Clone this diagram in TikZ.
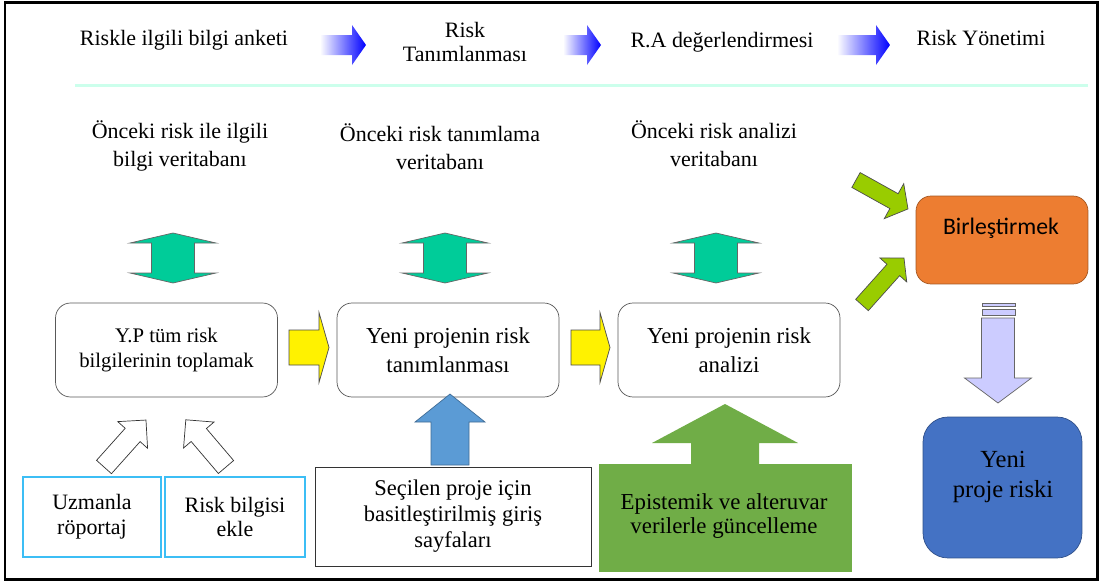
\documentclass[tikz,border=0pt]{standalone}
\usepackage{fontspec}
\setmainfont{Liberation Serif}
\newfontfamily\calibri{Carlito}
\usepackage{xcolor}

\definecolor{dbgreen}{RGB}{0,204,153}
\definecolor{inputblue}{RGB}{91,155,213}
\definecolor{updgreen}{RGB}{112,173,71}
\definecolor{limegreen}{RGB}{153,204,0}
\definecolor{mergeorange}{RGB}{237,125,49}
\definecolor{outlav}{RGB}{204,204,255}
\definecolor{riskblue}{RGB}{68,114,196}
\definecolor{boxcyan}{RGB}{60,190,245}
\definecolor{mint}{RGB}{204,255,236}

% block arrow: style, tail, angle, length, shaft half, head half, head length
\newcommand{\fatarrow}[7]{%
  \path[#1, shift={(#2)}, rotate=#3] (0,-#5) -- ({#4-#7},-#5) -- ({#4-#7},-#6) -- (#4,0)
    -- ({#4-#7},#6) -- ({#4-#7},#5) -- (0,#5) -- cycle;}

\begin{document}
\begin{tikzpicture}[x=0.02cm, y=-0.02cm, font=\fontsize{12.5}{16}\selectfont,
  stagebox/.style={draw=black!65, rounded corners=0.3cm, minimum width=4.44cm,
    minimum height=1.88cm, align=center, font=\fontsize{13}{16.4}\selectfont},
  srcbox/.style={draw=boxcyan, line width=0.035cm, minimum width=2.76cm, minimum height=1.6cm,
    align=center, font=\fontsize{12.5}{14.2}\selectfont}]
\useasboundingbox (0,0) rectangle (1103,585);
\fill[white] (0,0) rectangle (1103,585);
\draw[line width=0.06cm] (5,2) rectangle (1097,579);

% process header
\node (survey) at (184,40) {Riskle ilgili bilgi anketi};
\node[align=center, font=\fontsize{12.5}{13.6}\selectfont] (ident) at (465,42) {Risk\\Tanımlanması};
\node (assess) at (722,42) {R.A değerlendirmesi};
\node (manage) at (981,38) {Risk Yönetimi};
\foreach \x/\l in {320/46, 563/38, 837/53}
  {\fatarrow{left color=white, right color=blue}{\x,45}{0}{\l}{10}{20}{14}}
\draw[mint, line width=0.06cm] (75,85) -- (1088,85);

% databases
\node[align=center] (db1) at (180,146) {Önceki risk ile ilgili\\bilgi veritabanı};
\node[align=center] (db2) at (440,147) {Önceki risk tanımlama\\veritabanı};
\node[align=center] (db3) at (714,144) {Önceki risk analizi\\veritabanı};
\foreach \cx in {173,445,716}
  \filldraw[fill=dbgreen, draw=black!60] (\cx,233) -- (\cx+43,243) -- (\cx+21.5,243) -- (\cx+21.5,273)
    -- (\cx+43,273) -- (\cx,283) -- (\cx-43,273) -- (\cx-21.5,273) -- (\cx-21.5,243) -- (\cx-43,243) -- cycle;

% main steps
\node[stagebox, font=\fontsize{11.8}{14.7}\selectfont] (collect) at (166.5,350) {Y.P tüm risk\\bilgilerinin toplamak};
\node[stagebox] (identify) at (448,350) {Yeni projenin risk\\tanımlanması};
\node[stagebox] (analyse) at (729,350) {Yeni projenin risk\\analizi};
\fatarrow{fill=yellow, draw=black!70}{289,347.5}{0}{40}{17.5}{35}{10}
\fatarrow{fill=yellow, draw=black!70}{571,347.5}{0}{39}{17.5}{35}{10}

% inputs
\fatarrow{fill=white, draw=black!80}{104,467}{48.2}{63}{10}{20}{20}
\fatarrow{fill=white, draw=black!80}{226,467}{130.4}{62}{10}{20}{20}
\node[srcbox] (expert) at (92,517) {Uzmanla\\röportaj};
\node[srcbox, minimum width=2.8cm] (addinfo) at (235,517) {Risk bilgisi\\ekle};
\node[draw=black!80, fill=white, minimum width=5.52cm, minimum height=1.98cm, align=center,
  font=\fontsize{12.8}{14.8}\selectfont] (select) at (453,516.5) {Seçilen proje için\\basitleştirilmiş giriş\\sayfaları};
\fatarrow{fill=inputblue, draw=inputblue!70!black}{450,465}{90}{71}{19}{35}{28}

% update
\fill[updgreen] (599,464) rectangle (852,572);
\fatarrow{fill=updgreen}{725,466}{90}{62}{34}{73}{39}
\node[align=center, font=\fontsize{13}{13.2}\selectfont] (update) at (724,516) {Epistemik ve alteruvar\\verilerle güncelleme};

% risk management
\fatarrow{fill=limegreen, draw=black!70}{856,180}{-29.1}{59.5}{8.5}{20}{16}
\fatarrow{fill=limegreen, draw=black!70}{862,305}{48.2}{63}{8.5}{18}{16}
\node[draw=mergeorange!70!black, fill=mergeorange, rounded corners=0.3cm, minimum width=3.44cm,
  minimum height=1.76cm] (merge) at (1002,240) {};
\node[font=\calibri\fontsize{13.5}{16}\selectfont] (mergetxt) at (1001,228) {Birleştirmek};
\filldraw[fill=outlav, draw=black!60] (982,303) rectangle (1015,306);
\filldraw[fill=outlav, draw=black!60] (982,309) rectangle (1015,315);
\fatarrow{fill=outlav, draw=black!60}{998,318}{-90}{85}{16.5}{33.5}{25}
\node[draw=riskblue!70!black, fill=riskblue, rounded corners=0.5cm, minimum width=3.18cm,
  minimum height=2.82cm] (result) at (1002.5,487.5) {};
\node[align=center, font=\fontsize{14}{17}\selectfont] (resulttxt) at (1003,477) {Yeni\\proje riski};
\end{tikzpicture}
\end{document}
